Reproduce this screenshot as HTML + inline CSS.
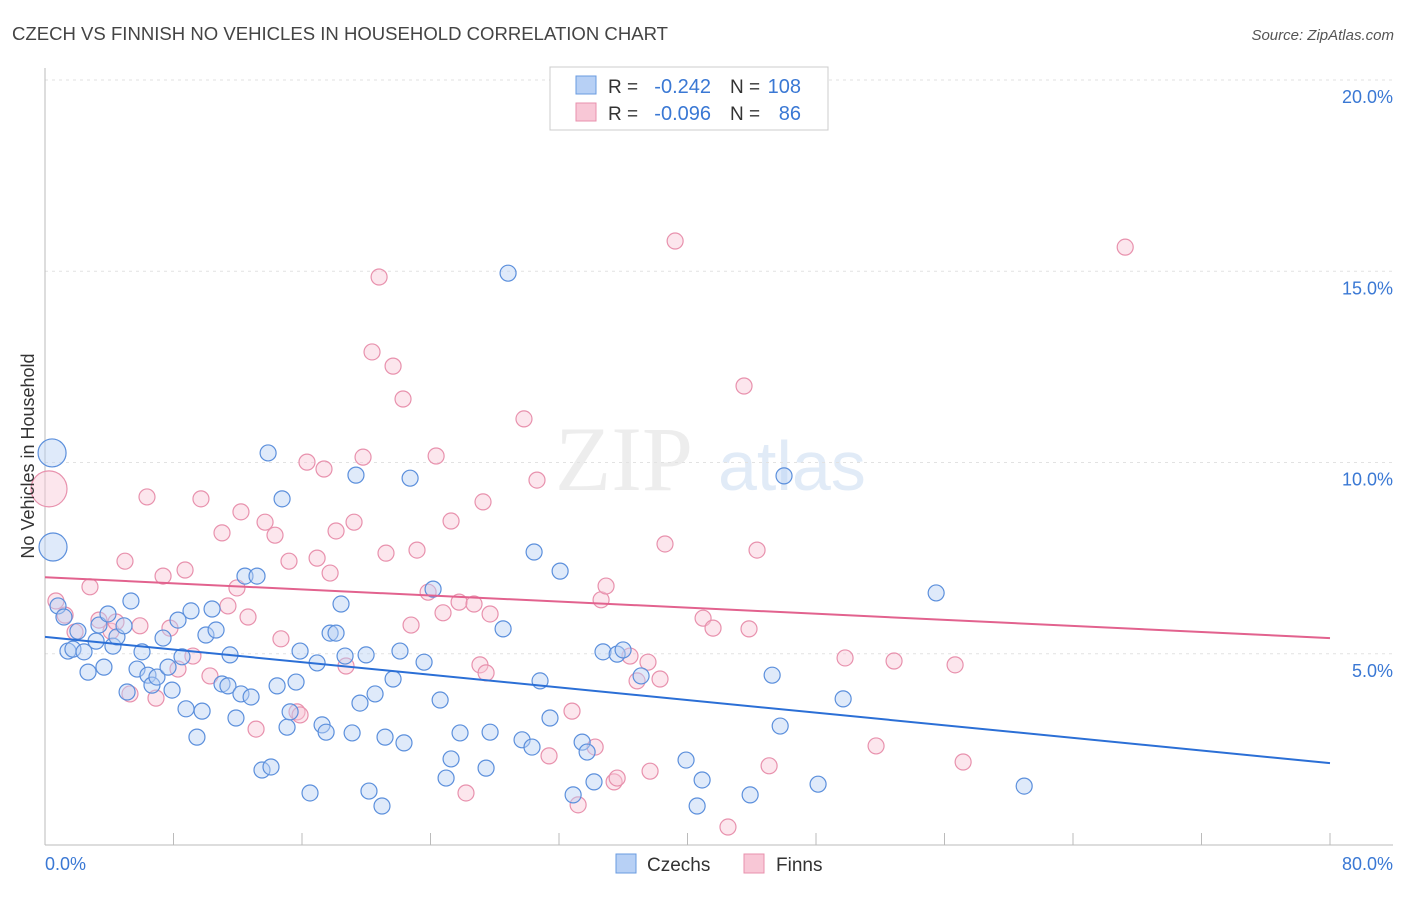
<!DOCTYPE html>
<html><head><meta charset="utf-8"><style>
body{margin:0;background:#fff;font-family:"Liberation Sans",sans-serif;}
</style></head><body>
<svg id="chart" width="1406" height="892" xmlns="http://www.w3.org/2000/svg" font-family="Liberation Sans, sans-serif">
<text x="12" y="40" font-size="18" fill="#444" textLength="656" lengthAdjust="spacingAndGlyphs">CZECH VS FINNISH NO VEHICLES IN HOUSEHOLD CORRELATION CHART</text>
<text x="1394" y="40" font-size="15" fill="#555" text-anchor="end" font-style="italic">Source: ZipAtlas.com</text>
<g opacity="0.5">
<text x="555" y="490" font-size="92" font-family="Liberation Serif, serif" fill="#ddd">ZIP</text>
<text x="718" y="490" font-size="70" fill="#c5d8f0">atlas</text>
</g>
<g id="grid"></g><g id="axes"></g><g id="marks"></g>
<text transform="translate(34,456) rotate(-90)" font-size="18" fill="#333" text-anchor="middle">No Vehicles in Household</text>
<g>
<rect x="550" y="67" width="278" height="63" fill="#fff" stroke="#ccc"/>
<rect x="576" y="76" width="20" height="18" fill="#b7d0f5" stroke="#6a9be0"/>
<rect x="576" y="103" width="20" height="18" fill="#f8c7d6" stroke="#e891ad"/>
<text x="608" y="93" font-size="19" fill="#333">R =</text>
<text x="711" y="93" font-size="20" fill="#3a78d4" text-anchor="end">-0.242</text>
<text x="730" y="93" font-size="19" fill="#333">N =</text>
<text x="801" y="93" font-size="20" fill="#3a78d4" text-anchor="end">108</text>
<text x="608" y="120" font-size="19" fill="#333">R =</text>
<text x="711" y="120" font-size="20" fill="#3a78d4" text-anchor="end">-0.096</text>
<text x="730" y="120" font-size="19" fill="#333">N =</text>
<text x="801" y="120" font-size="20" fill="#3a78d4" text-anchor="end">86</text>
</g>
<g>
<rect x="616" y="854" width="20" height="19" fill="#b7d0f5" stroke="#6a9be0"/>
<text x="647" y="871" font-size="19" fill="#333">Czechs</text>
<rect x="744" y="854" width="20" height="19" fill="#f8c7d6" stroke="#e891ad"/>
<text x="776" y="871" font-size="19" fill="#333">Finns</text>
</g>
</svg>
<script>
const blueX=[.44,.5,.81,1.18,1.43,1.74,2.05,2.43,2.68,3.18,3.36,3.67,3.92,4.23,4.48,4.92,5.11,5.35,5.73,6.04,6.41,6.66,6.97,7.35,7.66,7.91,8.28,8.53,8.78,9.09,9.46,9.78,10.02,10.4,10.65,11.02,11.39,11.52,11.89,12.2,12.45,12.83,13.2,13.89,13.51,14.07,14.45,14.76,15.07,15.26,15.63,15.88,16.5,16.94,17.25,17.5,17.75,18.12,18.43,18.68,19.12,19.36,19.61,19.99,20.17,20.55,20.98,21.17,21.67,22.1,22.35,22.73,23.6,24.16,24.6,24.97,25.28,25.84,27.46,27.71,28.52,28.83,29.7,30.32,30.45,30.82,31.44,32.07,32.88,33.44,33.75,34.18,34.74,35.62,35.99,37.11,39.91,40.6,40.91,43.9,45.27,45.77,46.01,48.13,49.69,55.48,60.96];
const blueY=[10.25,7.79,6.25,5.96,5.07,5.12,5.59,5.05,4.52,5.33,5.75,4.65,6.04,5.2,5.44,5.73,4.0,6.38,4.6,5.05,4.44,4.18,4.39,5.41,4.65,4.05,5.88,4.92,3.56,6.12,2.82,3.5,5.49,6.17,5.62,4.21,4.16,4.97,3.32,3.95,7.03,3.87,7.03,10.25,1.96,2.04,4.16,9.05,3.08,3.48,4.26,5.07,1.36,4.76,3.14,2.95,5.54,5.54,6.3,4.94,2.93,9.67,3.71,4.97,1.41,3.95,1.02,2.82,4.34,5.07,2.67,9.59,4.78,6.69,3.79,1.75,2.25,2.93,2.01,2.95,5.65,14.95,2.75,2.56,7.66,4.29,3.32,7.16,1.31,2.69,2.43,1.65,5.05,4.99,5.1,4.42,2.22,1.02,1.7,1.31,4.44,3.11,9.65,1.59,3.82,6.59,1.54];
const pinkX=[.25,.68,1.25,1.87,2.8,3.36,4.11,4.42,4.98,5.29,5.91,6.35,6.91,7.35,7.78,8.28,8.72,9.21,9.71,10.27,11.02,11.39,11.95,12.2,12.64,13.14,13.7,14.32,14.69,15.19,15.69,15.88,16.31,16.94,17.37,17.75,18.12,18.74,19.24,19.8,20.36,20.8,21.23,21.67,22.29,22.79,23.16,23.85,24.35,24.78,25.28,25.78,26.21,26.71,27.27,27.71,27.08,27.46,29.82,30.63,31.38,32.81,33.19,34.25,34.62,34.93,35.43,35.62,36.42,36.86,37.54,37.67,38.29,38.6,39.23,40.97,41.59,42.52,43.52,43.83,44.33,45.08,49.81,51.74,52.86,56.66,57.16,67.25];
const pinkY=[9.31,6.38,6.01,5.57,6.75,5.88,5.59,5.83,7.42,3.95,5.73,9.1,3.84,7.03,5.67,4.6,7.19,4.94,9.05,4.42,8.16,6.25,6.72,8.71,5.96,3.03,8.44,8.1,5.39,7.42,3.48,3.4,10.01,7.5,9.83,7.11,8.21,4.68,8.44,10.14,12.89,14.85,7.63,12.52,11.66,5.75,7.71,6.61,10.17,6.07,8.47,6.35,1.36,6.3,8.97,6.04,4.71,4.5,11.14,9.54,2.33,3.5,1.05,2.56,6.41,6.77,1.65,1.75,4.94,4.29,4.78,1.93,4.34,7.87,15.79,5.93,5.67,.47,12.0,5.65,7.71,2.07,4.89,2.59,4.81,4.71,2.17,15.63];
const trendX=[0,80];
const blueTrend=[5.44,2.14];
const pinkTrend=[7.0,5.41];
const yTicks=[5,10,15,20];
const yTickLabels=["5.0%","10.0%","15.0%","20.0%"];
const xTicks=[0,8,16,24,32,40,48,56,64,72,80];

const NS="http://www.w3.org/2000/svg";
const sx=v=>45+v*16.0625;
const sy=v=>845-v*38.25;
function mk(tag,attrs,parent){const e=document.createElementNS(NS,tag);for(const k in attrs)e.setAttribute(k,attrs[k]);document.getElementById(parent).appendChild(e);return e;}

yTicks.forEach((t,i)=>{
  const l=mk('line',{x1:45,x2:1393,y1:sy(t),y2:sy(t),stroke:'#e2e2e2','stroke-dasharray':'3,4'},'grid');
  
  
  const tx=mk('text',{x:1393,y:sy(t)+23,'font-size':18,fill:'#3a78d4','text-anchor':'end'},'axes');
  tx.textContent=yTickLabels[i];
  
  
});
const ya=mk('line',{x1:45,x2:45,y1:68,y2:845,stroke:'#bbb'},'axes');


const xa=mk('line',{x1:45,x2:1393,y1:845,y2:845,stroke:'#bbb'},'axes');


xTicks.forEach(t=>{
  const l=mk('line',{x1:sx(t),x2:sx(t),y1:833,y2:845,stroke:'#bbb'},'axes');
  
  
});
const x0=mk('text',{x:45,y:870,'font-size':18,fill:'#3a78d4'},'axes');x0.textContent='0.0%';


const x1=mk('text',{x:1393,y:870,'font-size':18,fill:'#3a78d4','text-anchor':'end'},'axes');x1.textContent='80.0%';



function pts(X,Y,fill,stroke,name){
  X.forEach((x,i)=>{
    const big=(name==='czech'&&i<2)?14:(name==='finn'&&i===0?18:8);
    const c=mk('circle',{cx:sx(x),cy:sy(Y[i]),r:big,fill:fill,'fill-opacity':0.45,stroke:stroke,'stroke-width':1.2},'marks');
    
    
  });
}
pts(pinkX,pinkY,'#f8c7d6','#e891ad','finn');
pts(blueX,blueY,'#b7d0f5','#5b8fdc','czech');
const bt=mk('line',{x1:sx(trendX[0]),y1:sy(blueTrend[0]),x2:sx(trendX[1]),y2:sy(blueTrend[1]),stroke:'#2b6fd6','stroke-width':2},'marks');


const pt=mk('line',{x1:sx(trendX[0]),y1:sy(pinkTrend[0]),x2:sx(trendX[1]),y2:sy(pinkTrend[1]),stroke:'#e2628e','stroke-width':2},'marks');


</script>
</body></html>
